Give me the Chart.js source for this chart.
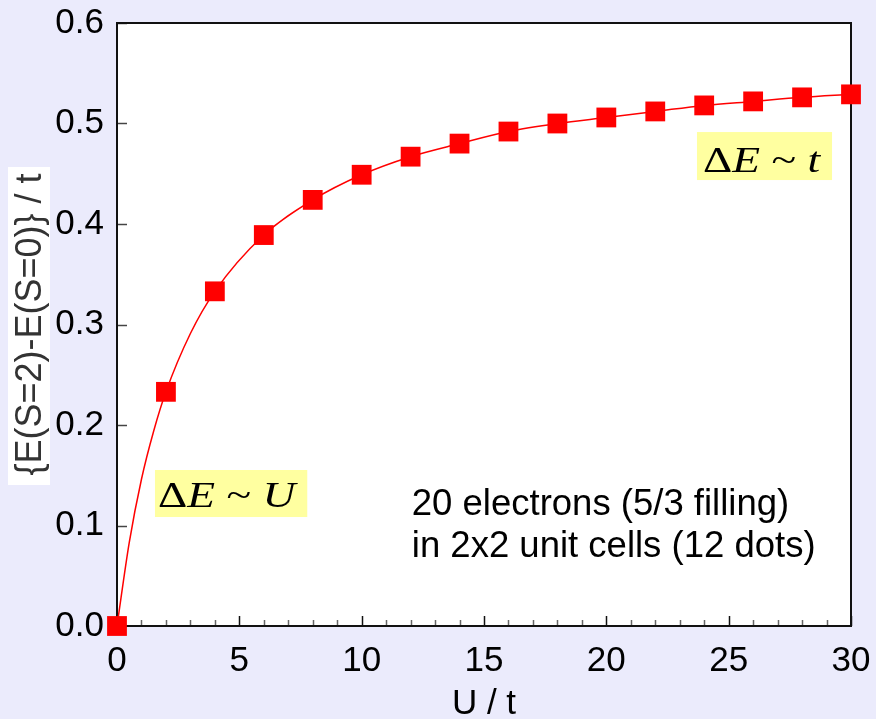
<!DOCTYPE html>
<html>
<head>
<meta charset="utf-8">
<script src="https://cdn.jsdelivr.net/npm/chart.js@4/dist/chart.umd.min.js"></script>
<style>
  html, body { margin: 0; padding: 0; background: #ebebfc; }
  #wrap { width: 876px; height: 719px; }
</style>
</head>
<body>
<div id="wrap"><canvas id="gapChart" width="876" height="719"></canvas></div>
<script>
// U / t values and the energy gap (square markers)
var uValues = [0, 2, 4, 6, 8, 10, 12, 14, 16, 18, 20, 22, 24, 26, 28, 30];
var gapValues = [0.000, 0.233, 0.333, 0.389, 0.424, 0.449, 0.467, 0.480, 0.492, 0.500, 0.506, 0.512, 0.518, 0.522, 0.526, 0.529];
// the thin fitted red curve at a few places
var curveU = [0, 0.5, 1, 1.5, 2, 3, 4, 6, 8, 10, 12, 14, 16, 18, 20, 22, 24, 26, 28, 30];
var curveGap = [0.000, 0.083, 0.146, 0.194, 0.233, 0.291, 0.333, 0.389, 0.424, 0.449, 0.467, 0.480, 0.492, 0.500, 0.506, 0.512, 0.518, 0.522, 0.526, 0.529];
var xTickLabels = ['0', '5', '10', '15', '20', '25', '30'];
var yTickLabels = ['0.0', '0.1', '0.2', '0.3', '0.4', '0.5', '0.6'];
var noteLines = ['20 electrons (5/3 filling)', 'in 2x2 unit cells (12 dots)'];

var SANS = '"Liberation Sans", Arial, sans-serif';
var SERIF = '"Liberation Serif", "Times New Roman", serif';

// labels in the plot, placed in data units (x = text start, y = baseline)
var formulaLabels = [
    { x: 23.95, y: 0.4517, parts: [['\u0394', ''], ['E', 'italic '], [' ~ ', ''], ['t', 'italic ']], padL: 6, padR: 12, up: 40, down: 8 },
    { x: 1.675, y: 0.1184, parts: [['\u0394', ''], ['E', 'italic '], [' ~ ', ''], ['U', 'italic ']], padL: 3, padR: 12, up: 37, down: 10 }
];
var noteAnchor = { x: 12.05, y: 0.1104, y2: 0.0687 };

var decorPlugin = {
    id: 'decor',
    beforeDraw: function (chart) {
        var ctx = chart.ctx, a = chart.chartArea;
        ctx.save();
        ctx.fillStyle = '#ebebfc';
        ctx.fillRect(0, 0, chart.width, chart.height);
        ctx.fillStyle = '#ffffff';
        ctx.fillRect(a.left, a.top, a.right - a.left, a.bottom - a.top);
        // white strip behind the y title
        ctx.fillRect(8, 167, 42, 318);
        ctx.restore();
    },
    beforeDatasetsDraw: function (chart) {
        var ctx = chart.ctx, a = chart.chartArea;
        var xs = chart.scales.x, ys = chart.scales.y;
        ctx.save();
        // x ticks inside, minor every 1, major every 5
        for (var v = xs.min; v <= xs.max; v++) {
            var px = Math.round(xs.getPixelForValue(v)) + 0.5;
            var major = v % 5 === 0;
            ctx.strokeStyle = major ? '#111' : '#666';
            ctx.lineWidth = 1.5;
            ctx.beginPath();
            ctx.moveTo(px, a.bottom);
            ctx.lineTo(px, a.bottom - (major ? 10 : 6));
            ctx.stroke();
        }
        // y ticks inside
        for (var i = 0; i < yTickLabels.length; i++) {
            var py = Math.round(ys.getPixelForValue(parseFloat(yTickLabels[i]))) + 0.5;
            ctx.strokeStyle = '#444';
            ctx.lineWidth = 1.5;
            ctx.beginPath();
            ctx.moveTo(a.left, py);
            ctx.lineTo(a.left + 10, py);
            ctx.stroke();
        }
        // frame
        ctx.strokeStyle = '#111';
        ctx.lineWidth = 2;
        ctx.strokeRect(a.left, a.top, a.right - a.left, a.bottom - a.top);

        // yellow formula boxes, text a bit wide like the original
        var stretch = 1.3;
        formulaLabels.forEach(function (lab) {
            var x0 = xs.getPixelForValue(lab.x);
            var base = ys.getPixelForValue(lab.y);
            var w = 0;
            lab.parts.forEach(function (p) {
                ctx.font = p[1] + '35px ' + SERIF;
                w += ctx.measureText(p[0]).width;
            });
            ctx.fillStyle = '#ffffa0';
            ctx.fillRect(x0 - lab.padL, base - lab.up, w * stretch + lab.padL + lab.padR, lab.up + lab.down);
            ctx.save();
            ctx.translate(x0, base);
            ctx.scale(stretch, 1);
            ctx.fillStyle = '#000';
            ctx.textBaseline = 'alphabetic';
            ctx.textAlign = 'left';
            var cx = 0;
            lab.parts.forEach(function (p) {
                ctx.font = p[1] + '35px ' + SERIF;
                ctx.fillText(p[0], cx, 0);
                cx += ctx.measureText(p[0]).width;
            });
            ctx.restore();
        });

        // note text
        ctx.fillStyle = '#000';
        ctx.font = '36.5px ' + SANS;
        ctx.textBaseline = 'alphabetic';
        ctx.textAlign = 'left';
        ctx.fillText(noteLines[0], xs.getPixelForValue(noteAnchor.x), ys.getPixelForValue(noteAnchor.y));
        ctx.fillText(noteLines[1], xs.getPixelForValue(noteAnchor.x), ys.getPixelForValue(noteAnchor.y2));
        ctx.restore();
    }
};

var ctx = document.getElementById('gapChart').getContext('2d');
var gapChart = new Chart(ctx, {
    type: 'line',
    data: {
        datasets: [{
            label: 'gap',
            data: uValues.map(function (u, i) { return { x: u, y: gapValues[i] }; }),
            showLine: false,
            backgroundColor: '#ff0000',
            pointStyle: 'rect',
            pointRadius: 14,
            pointHoverRadius: 14,
            pointBorderWidth: 0,
            pointBackgroundColor: '#ff0000',
            clip: false,
            order: 0
        }, {
            label: 'fit',
            data: curveU.map(function (u, i) { return { x: u, y: curveGap[i] }; }),
            borderColor: '#ff0000',
            borderWidth: 1.5,
            fill: false,
            cubicInterpolationMode: 'monotone',
            pointRadius: 0,
            pointHoverRadius: 0,
            order: 1
        }]
    },
    options: {
        responsive: false,
        animation: false,
        events: [],
        layout: { padding: { top: 23, right: 25, left: 0, bottom: 0 } },
        plugins: {
            legend: { display: false },
            tooltip: { enabled: false }
        },
        scales: {
            x: {
                type: 'linear',
                min: 0,
                max: 30,
                afterFit: function (s) { s.height = 93; s.paddingLeft = 0; s.paddingRight = 0; },
                grid: { display: false, drawTicks: false },
                border: { display: false },
                ticks: {
                    stepSize: 5,
                    padding: 14,
                    color: '#000',
                    font: { family: SANS, size: 35 },
                    callback: function (v) { return xTickLabels[xTickLabels.indexOf(String(v))]; }
                },
                title: {
                    display: true,
                    text: 'U / t',
                    color: '#000',
                    font: { family: SANS, size: 35, lineHeight: 1 },
                    padding: { top: 0, bottom: -3 }
                }
            },
            y: {
                min: 0,
                max: 0.6,
                afterFit: function (s) { s.width = 117; s.paddingTop = 0; s.paddingBottom = 0; },
                grid: { display: false, drawTicks: false },
                border: { display: false },
                ticks: {
                    stepSize: 0.1,
                    padding: 13,
                    color: '#000',
                    font: { family: SANS, size: 35 },
                    callback: function (v) { return yTickLabels[Math.round(v * 10)]; }
                },
                title: {
                    display: true,
                    text: '{E(S=2)-E(S=0)} / t',
                    color: '#333',
                    font: { family: SANS, size: 36, lineHeight: 1 },
                    padding: { top: 13, bottom: 0 }
                }
            }
        }
    },
    plugins: [decorPlugin]
});
</script>
</body>
</html>
